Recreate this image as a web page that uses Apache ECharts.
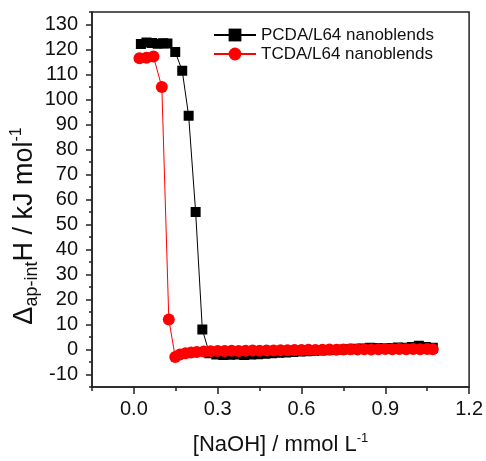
<!DOCTYPE html>
<html><head><meta charset="utf-8">
<script src="https://cdn.jsdelivr.net/npm/echarts@6/dist/echarts.min.js"></script>
<style>html,body{margin:0;padding:0;background:#fff}#c{width:486px;height:461px}</style>
</head><body><div id="c"></div>
<script>
const seriesNames = ['PCDA/L64 nanoblends', 'TCDA/L64 nanoblends'];

const pcdaX = [0.025,0.045,0.065,0.085,0.105,0.12,0.148,0.173,0.196,0.221,0.245,
  0.27,0.295,0.32,0.345,0.37,0.395,0.42,0.445,0.47,0.495,
  0.52,0.545,0.57,0.595,0.62,0.645,0.67,0.695,0.72,0.745,
  0.77,0.795,0.82,0.845,0.87,0.895,0.92,0.945,0.97,0.995,
  1.02,1.045,1.07];
const pcdaY = [122.2,122.8,122.6,122.3,122.5,122.4,119.0,111.5,93.5,55.0,8.0,
  -1.5,-2.0,-2.2,-2.1,-2.0,-2.2,-2.0,-1.9,-1.7,-1.5,
  -1.3,-1.2,-1.0,-0.8,-0.7,-0.6,-0.4,-0.3,-0.2,0.0,
  0.1,0.3,0.4,0.7,0.6,0.5,0.6,0.8,0.7,1.0,
  1.5,1.0,0.7];

const tcdaX = [0.02,0.045,0.07,0.10,0.125,0.148,0.165,0.185,0.205,0.225,
  0.25,0.275,0.30,0.325,0.35,0.375,0.40,0.425,0.45,0.475,
  0.50,0.525,0.55,0.575,0.60,0.625,0.65,0.675,0.70,0.725,
  0.75,0.775,0.80,0.825,0.85,0.875,0.90,0.925,0.95,0.975,
  1.00,1.025,1.05,1.07];
const tcdaY = [116.5,116.7,117.2,105.0,12.0,-3.0,-2.0,-1.5,-1.2,-1.0,
  -0.8,-0.7,-0.6,-0.6,-0.5,-0.6,-0.5,-0.4,-0.5,-0.4,
  -0.4,-0.3,-0.3,-0.2,-0.2,-0.1,-0.2,-0.1,0.0,-0.1,
  0.0,0.1,0.0,0.1,0.0,0.1,0.2,0.1,0.2,0.1,
  0.2,0.1,0.2,0.1];

const xTickLabels = [0, 0.3, 0.6, 0.9, 1.2];
const yTickLabels = [-10,0,10,20,30,40,50,60,70,80,90,100,110,120,130];

const FONT = '"Liberation Sans", Arial, sans-serif';
const INK = '#111';
const AX = {color: '#222', width: 1.5};
const zip = (xs, ys) => xs.map((x, i) => [x, ys[i]]);

const chart = echarts.init(document.getElementById('c'), null, {renderer: 'canvas'});
const option = {
  animation: false,
  backgroundColor: '#fff',
  grid: {left: 92, right: 14, top: 12, bottom: 66, show: true, borderColor: '#222', borderWidth: 1.5},
  legend: {
    orient: 'vertical', left: 208, top: 21, itemWidth: 42, itemHeight: 16, itemGap: 1,
    textStyle: {fontFamily: FONT, fontSize: 17, color: INK, lineHeight: 18},
    data: seriesNames
  },
  xAxis: [
    {
      type: 'value', min: -0.15, max: 1.2, interval: 0.15,
      axisLine: {show: true, onZero: false, lineStyle: AX},
      axisTick: {show: true, length: 4, lineStyle: AX},
      axisLabel: {show: false}, splitLine: {show: false},
      name: '{m|[NaOH] / mmol L}{sup|-1}', nameLocation: 'middle', nameGap: 45,
      nameTextStyle: {
        fontFamily: FONT, fontSize: 22, color: INK,
        rich: {
          m: {fontFamily: FONT, fontSize: 22, color: INK, lineHeight: 26},
          sup: {fontFamily: FONT, fontSize: 13, color: INK, lineHeight: 12, verticalAlign: 'top'}
        }
      }
    },
    {
      type: 'value', min: -0.15, max: 1.2, position: 'bottom',
      axisLine: {show: false, onZero: false},
      axisTick: {show: true, length: 7, customValues: xTickLabels, lineStyle: AX},
      axisLabel: {customValues: xTickLabels, formatter: v => Number(v).toFixed(1), margin: 12,
        fontFamily: FONT, fontSize: 20, color: INK},
      splitLine: {show: false}
    }
  ],
  yAxis: [
    {
      type: 'value', min: -15, max: 135, interval: 5,
      axisLine: {show: true, onZero: false, lineStyle: AX},
      axisTick: {show: true, length: 3, lineStyle: AX},
      axisLabel: {show: false}, splitLine: {show: false},
      name: '{m|Δ}{sub|ap-int}{m|H / kJ mol}{sup|-1}', nameLocation: 'middle', nameGap: 51, nameRotate: 90,
      nameTextStyle: {
        fontFamily: FONT, fontSize: 27, color: INK, padding: [0, 53, 0, 0],
        rich: {
          m: {fontFamily: FONT, fontSize: 27, color: INK, lineHeight: 32},
          sub: {fontFamily: FONT, fontSize: 18, color: INK, lineHeight: 12, verticalAlign: 'bottom'},
          sup: {fontFamily: FONT, fontSize: 16, color: INK, lineHeight: 15, verticalAlign: 'top'}
        }
      }
    },
    {
      type: 'value', min: -15, max: 135, position: 'left',
      axisLine: {show: false, onZero: false},
      axisTick: {show: true, length: 6, customValues: yTickLabels, lineStyle: AX},
      axisLabel: {customValues: yTickLabels, margin: 14, fontFamily: FONT, fontSize: 20, color: INK},
      splitLine: {show: false}
    }
  ],
  series: [
    {
      name: seriesNames[0], type: 'line', xAxisIndex: 0, yAxisIndex: 0,
      data: zip(pcdaX, pcdaY), symbol: 'rect', symbolSize: 10, showAllSymbol: true,
      color: '#000', itemStyle: {color: '#000'}, lineStyle: {color: '#000', width: 1}, z: 2
    },
    {
      name: seriesNames[1], type: 'line', xAxisIndex: 0, yAxisIndex: 0,
      data: zip(tcdaX, tcdaY), symbol: 'circle', symbolSize: 12, showAllSymbol: true,
      color: '#ff0000', itemStyle: {color: '#ff0000'}, lineStyle: {color: '#ff0000', width: 1}, z: 3
    }
  ]
};
chart.setOption(option);
</script>
</body></html>
